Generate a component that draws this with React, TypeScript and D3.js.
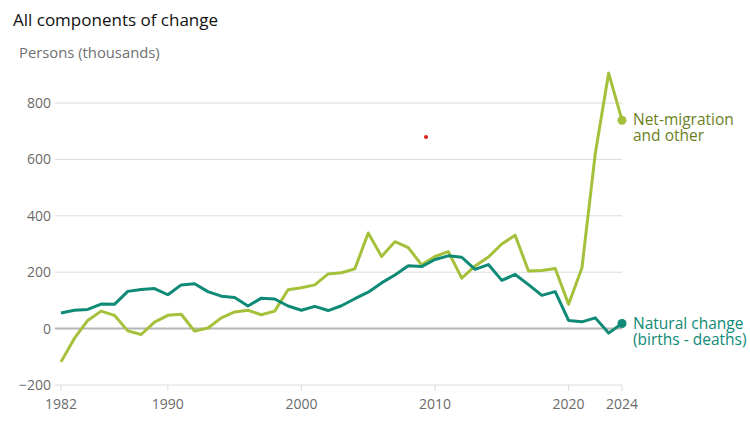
import * as d3 from "d3";

/* -----------------------------
   Data (thousands of persons)
----------------------------- */

const years: number[] = d3.range(1982, 2025);

const naturalChange: number[] = [
  55, 65, 68, 87, 86, 132, 139, 142, 120, 155, 159, 131, 115, 110, 80, 108, 105, 80,
  65, 79, 64, 81, 106, 129, 162, 190, 223, 220, 245, 258, 253, 210,
  227, 171, 192, 156, 118, 131, 29, 24, 38, -16, 18,
];

const netMigration: number[] = [
  -118, -35, 29, 62, 47, -8, -21, 23, 47, 51, -9, 2, 38, 59, 65, 49, 62, 138,
  145, 155, 194, 198, 212, 339, 256, 308, 287, 226, 256, 273, 179, 222,
  254, 300, 331, 204, 206, 213, 86, 215, 621, 906, 739,
];

const yTicks: number[] = [-200, 0, 200, 400, 600, 800];
const xTicks: number[] = [1982, 1990, 2000, 2010, 2020, 2024];

const netLabel: string[] = ["Net-migration", "and other"];
const naturalLabel: string[] = ["Natural change", "(births - deaths)"];

const FONT = "'Open Sans', 'Noto Sans', sans-serif";
const GREEN = "#a5c03a";
const GREEN_LABEL = "#6c7f1f";
const TEAL = "#0f8a76";

export default function App() {
  const width = 750;
  const height = 432;

  const x = d3.scaleLinear().domain([1982, 2024]).range([61, 622]);
  const y = d3.scaleLinear().domain([-200, 800]).range([385, 103]);

  const line = d3
    .line<number>()
    .x((_, i) => x(years[i]))
    .y((d) => y(d));

  const last = years.length - 1;

  return (
    <svg
      width={width}
      height={height}
      style={{ position: "absolute", left: 0, top: 0, fontFamily: FONT }}
    >
      <rect width={width} height={height} fill="white" />

      <text x={13} y={26} fontSize={17} fill="#111">
        All components of change
      </text>
      <text x={19} y={58} fontSize={14.8} fill="#707070">
        Persons (thousands)
      </text>

      {/* gridlines + y labels */}
      {yTicks.map((t) => (
        <g key={t}>
          {t !== 0 && (
            <line
              x1={55}
              x2={622}
              y1={y(t)}
              y2={y(t)}
              stroke="#dcdcdc"
              strokeWidth={1}
            />
          )}
          <text
            x={51}
            y={y(t)}
            dy="0.35em"
            textAnchor="end"
            fontSize={14}
            fill="#6b6b6b"
          >
            {t < 0 ? `\u2212${Math.abs(t)}` : t}
          </text>
        </g>
      ))}
      <line x1={55} x2={622} y1={y(0)} y2={y(0)} stroke="#b5b5b5" strokeWidth={2} />

      {/* x ticks */}
      {xTicks.map((t) => (
        <g key={t}>
          <line x1={x(t)} x2={x(t)} y1={y(-200)} y2={y(-200) + 6} stroke="#dcdcdc" />
          <text x={x(t)} y={409} textAnchor="middle" fontSize={14} fill="#6b6b6b">
            {t}
          </text>
        </g>
      ))}

      {/* series */}
      <path d={line(netMigration) ?? ""} fill="none" stroke={GREEN} strokeWidth={3} strokeLinejoin="round" />
      <path d={line(naturalChange) ?? ""} fill="none" stroke={TEAL} strokeWidth={3} strokeLinejoin="round" />

      <circle cx={x(years[last])} cy={y(netMigration[last])} r={4.5} fill={GREEN} />
      <circle cx={x(years[last])} cy={y(naturalChange[last])} r={4.5} fill={TEAL} />

      {/* end labels */}
      {netLabel.map((s, i) => (
        <text key={s} x={633} y={y(netMigration[last]) + 5 + i * 16} fontSize={15.5} fill={GREEN_LABEL}>
          {s}
        </text>
      ))}
      {naturalLabel.map((s, i) => (
        <text key={s} x={633} y={y(naturalChange[last]) + 5.5 + i * 16} fontSize={15.5} fill={TEAL}>
          {s}
        </text>
      ))}

      {/* stray marker present in the source image */}
      <circle cx={426} cy={137} r={2} fill="#e0201b" />
    </svg>
  );
}
